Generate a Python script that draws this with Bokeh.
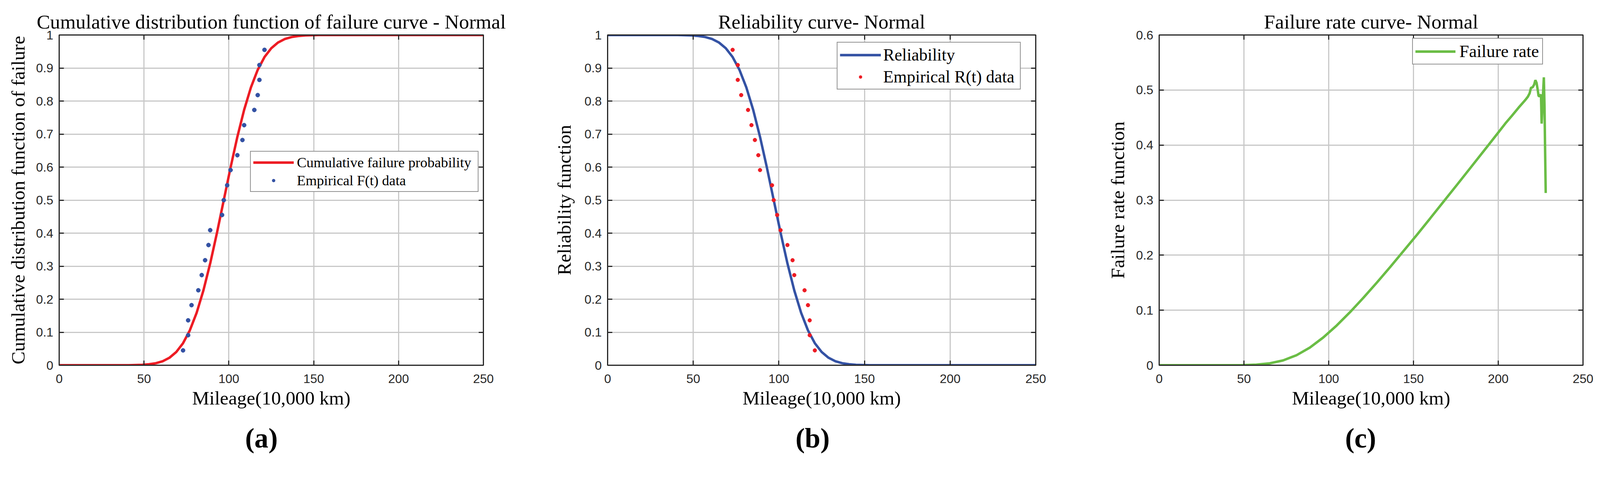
from bokeh.plotting import figure
from bokeh.models import Range1d, FixedTicker, LinearAxis, Legend, LegendItem, Title
from bokeh.layouts import row
from bokeh.embed import file_html
from bokeh.resources import INLINE

# ---------------- data ----------------
# empirical points (mileage, 10,000 km)
emp_x = [73, 76, 76, 78, 82, 84, 86, 88, 89, 96, 97, 99, 101, 105, 108, 109, 115, 117, 118, 118, 121]
emp_F = [0.045, 0.091, 0.136, 0.182, 0.227, 0.273, 0.318, 0.364, 0.409, 0.455, 0.500,
         0.545, 0.591, 0.636, 0.682, 0.727, 0.773, 0.818, 0.864, 0.909, 0.955]
emp_R = [0.955, 0.909, 0.864, 0.818, 0.773, 0.727, 0.682, 0.636, 0.591, 0.545, 0.500,
         0.455, 0.409, 0.364, 0.318, 0.273, 0.227, 0.182, 0.136, 0.091, 0.045]

# fitted normal curves
curve_x = [0, 41, 49, 53, 57, 61, 65, 69, 73, 77, 81, 85, 89, 93, 97, 101, 105, 109,
           113, 117, 121, 125, 129, 133, 137, 141, 145, 153, 165, 250]
curve_F = [0, 0.0002, 0.0013, 0.003, 0.0062, 0.0122, 0.0228, 0.0401, 0.0668, 0.1057,
           0.1587, 0.2266, 0.3085, 0.4013, 0.5, 0.5987, 0.6915, 0.7734, 0.8413, 0.8944,
           0.9332, 0.9599, 0.9773, 0.9878, 0.9938, 0.997, 0.9987, 0.9998, 1.0, 1.0]
curve_R = [1.0, 0.9998, 0.9987, 0.997, 0.9938, 0.9878, 0.9772, 0.9599, 0.9332, 0.8943,
           0.8413, 0.7734, 0.6915, 0.5987, 0.5, 0.4013, 0.3085, 0.2266, 0.1587, 0.1056,
           0.0668, 0.0401, 0.0227, 0.0122, 0.0062, 0.003, 0.0013, 0.0002, 0.0, 0.0]

# failure rate curve
hazard_x = [0, 40, 49.4, 57.3, 65.2, 73.1, 81.0, 88.9, 96.8, 104.7, 112.6, 120.5, 128.4,
            136.3, 144.2, 152.1, 160.0, 167.9, 175.8, 183.7, 191.6, 199.5, 204.2, 208,
            212, 216, 217.5, 218.5, 219.3, 220.3, 221.2, 221.9, 222.6, 223.3, 223.8,
            224.6, 225.2, 225.6, 226.2, 226.9, 227.3, 227.6, 228.0]
hazard_h = [0, 0.0001, 0.0003, 0.0011, 0.0035, 0.0088, 0.0182, 0.0322, 0.0505, 0.0722,
            0.0965, 0.1227, 0.1502, 0.1786, 0.2078, 0.2372, 0.2674, 0.2979, 0.3283,
            0.3590, 0.3898, 0.4207, 0.4393, 0.453, 0.468, 0.482, 0.488, 0.494, 0.504,
            0.505, 0.510, 0.518, 0.513, 0.500, 0.489, 0.489, 0.492, 0.439, 0.480, 0.523,
            0.470, 0.400, 0.313]

x_ticks = [0, 50, 100, 150, 200, 250]
x_tick_labels = ["0", "50", "100", "150", "200", "250"]
y_ticks_ab = [0, 0.1, 0.2, 0.3, 0.4, 0.5, 0.6, 0.7, 0.8, 0.9, 1]
y_tick_labels_ab = ["0", "0.1", "0.2", "0.3", "0.4", "0.5", "0.6", "0.7", "0.8", "0.9", "1"]
y_ticks_c = [0, 0.1, 0.2, 0.3, 0.4, 0.5, 0.6]
y_tick_labels_c = ["0", "0.1", "0.2", "0.3", "0.4", "0.5", "0.6"]

titles = ["Cumulative distribution function of failure curve - Normal",
          "Reliability curve- Normal",
          "Failure rate curve- Normal"]
y_axis_labels = ["Cumulative distribution function of failure",
                 "Reliability function",
                 "Failure rate function"]
x_axis_label = "Mileage(10,000 km)"
panel_tags = ["(a)", "(b)", "(c)"]
legend_labels_a = ["Cumulative failure probability", "Empirical F(t) data"]
legend_labels_b = ["Reliability", "Empirical R(t) data"]
legend_labels_c = ["Failure rate"]

RED = "#ED1C24"
BLUE = "#3452A4"
GREEN = "#6ABD45"
AX = "#262626"
SERIF = "Liberation Serif"
SANS = "Liberation Sans"

S = 0.967  # page scale


def sc(v):
    return int(round(v * S))


def fs(v):
    return "%.1fpx" % (v * S)


def style_axis(ax, ticks, labels, show):
    ax.ticker = FixedTicker(ticks=ticks)
    ax.axis_line_color = AX
    ax.axis_line_width = 3 * S
    ax.major_tick_line_color = AX
    ax.major_tick_line_width = 3 * S
    ax.major_tick_in = sc(12)
    ax.major_tick_out = 0
    ax.minor_tick_line_color = None
    ax.major_label_text_font = SANS
    ax.major_label_text_color = AX
    if show:
        ax.major_label_text_font_size = fs(33)
        ax.major_label_overrides = dict(zip(ticks, labels))
    else:
        ax.major_label_text_font_size = "0px"
        ax.major_label_standoff = 0
        ax.major_label_text_alpha = 0


def make_panel(width, height, mbl, mbr, mbt, mbb, ymax, yticks, ylabels, title, ylabel,
               tag, ylabel_standoff, tag_offset):
    p = figure(width=sc(width), height=sc(height), x_range=Range1d(0, 250),
               y_range=Range1d(0, ymax), output_backend="svg", toolbar_location=None,
               title=title, min_border_left=sc(mbl), min_border_right=sc(mbr),
               min_border_top=sc(mbt), min_border_bottom=sc(mbb))
    p.background_fill_color = "white"
    p.border_fill_color = "white"
    p.outline_line_color = AX
    p.outline_line_width = 3 * S

    p.title.text_font = SERIF
    p.title.text_font_size = fs(53)
    p.title.text_font_style = "normal"
    p.title.text_color = "black"
    p.title.align = "center"
    p.title.standoff = sc(12)

    xa = p.xaxis[0]
    ya = p.yaxis[0]
    style_axis(xa, x_ticks, x_tick_labels, True)
    style_axis(ya, yticks, ylabels, True)
    xa.major_label_standoff = sc(24)
    ya.major_label_standoff = sc(15)
    xa.axis_label = x_axis_label
    ya.axis_label = ylabel
    for ax in (xa, ya):
        ax.axis_label_text_font = SERIF
        ax.axis_label_text_font_size = fs(51)
        ax.axis_label_text_font_style = "normal"
        ax.axis_label_text_color = "black"
    xa.axis_label_standoff = sc(8)
    ya.axis_label_standoff = sc(ylabel_standoff)

    top = LinearAxis()
    right = LinearAxis()
    style_axis(top, x_ticks, x_tick_labels, False)
    style_axis(right, yticks, ylabels, False)
    p.add_layout(top, "above")
    p.add_layout(right, "right")

    p.xgrid.ticker = xa.ticker
    p.ygrid.ticker = ya.ticker
    for g in (p.xgrid, p.ygrid):
        g.grid_line_color = "#C8C8C8"
        g.grid_line_width = 3 * S

    t = Title(text=tag, align="left", offset=sc(tag_offset), text_font=SERIF,
              text_font_size=fs(74), text_font_style="bold", text_color="black",
              standoff=sc(62))
    p.add_layout(t, "below")
    return p


def style_legend(lg, loc, size, gw, label_w, spacing, padding, standoff):
    lg.location = (sc(loc[0]), sc(loc[1]))
    lg.margin = 0
    lg.padding = sc(padding)
    lg.spacing = sc(spacing)
    lg.border_line_color = AX
    lg.border_line_width = 3 * S
    lg.background_fill_color = "white"
    lg.background_fill_alpha = 1
    lg.label_text_font = SERIF
    lg.label_text_font_size = fs(size)
    lg.label_text_color = "black"
    lg.glyph_width = sc(gw)
    lg.glyph_height = sc(20)
    lg.label_height = sc(20)
    lg.label_width = sc(label_w)
    lg.label_standoff = sc(standoff)


# ---------------- panel (a) ----------------
pa = make_panel(1392, 1230, 156, 113, 92, 261, 1, y_ticks_ab, y_tick_labels_ab,
                titles[0], y_axis_labels[0], panel_tags[0], 16, 492)
ra = pa.line(curve_x, curve_F, line_color=RED, line_width=6.5 * S)
sa_key = pa.scatter(emp_x, emp_F, marker="circle", size=6 * S, fill_color=BLUE, line_color=BLUE)
sa = pa.scatter(emp_x, emp_F, marker="circle", size=11 * S, fill_color=BLUE, line_color=BLUE)
lga = Legend(items=[LegendItem(label=legend_labels_a[0], renderers=[ra]),
                    LegendItem(label=legend_labels_a[1], renderers=[sa_key])])
style_legend(lga, (506, 458), 38, 108, 473, 3, 6, 8)
pa.add_layout(lga)

# ---------------- panel (b) ----------------
pb = make_panel(1400, 1230, 216, 51, 86, 259, 1, y_ticks_ab, y_tick_labels_ab,
                titles[1], y_axis_labels[1], panel_tags[1], 22, 497)
rb = pb.line(curve_x, curve_R, line_color=BLUE, line_width=6.5 * S)
sb_key = pb.scatter(emp_x, emp_R, marker="circle", size=8 * S, fill_color=RED, line_color=RED)
sb = pb.scatter(emp_x, emp_R, marker="circle", size=10 * S, fill_color=RED, line_color=RED)
lgb = Legend(items=[LegendItem(label=legend_labels_b[0], renderers=[rb]),
                    LegendItem(label=legend_labels_b[1], renderers=[sb_key])])
style_legend(lgb, (607, 729), 45, 109, 356, 6, 6, 6)
pb.add_layout(lgb)

# ---------------- panel (c) ----------------
pc = make_panel(1440, 1230, 276, 41, 92, 262, 0.6, y_ticks_c, y_tick_labels_c,
                titles[2], y_axis_labels[2], panel_tags[2], 17, 492)
rc = pc.line(hazard_x, hazard_h, line_color=GREEN, line_width=6.5 * S)
lgc = Legend(items=[LegendItem(label=legend_labels_c[0], renderers=[rc])])
style_legend(lgc, (670, 795), 46, 106, 213, 4, 6, 10)
pc.add_layout(lgc)

layout = row(pa, pb, pc)
open("out.html", "w").write(file_html(layout, INLINE))
